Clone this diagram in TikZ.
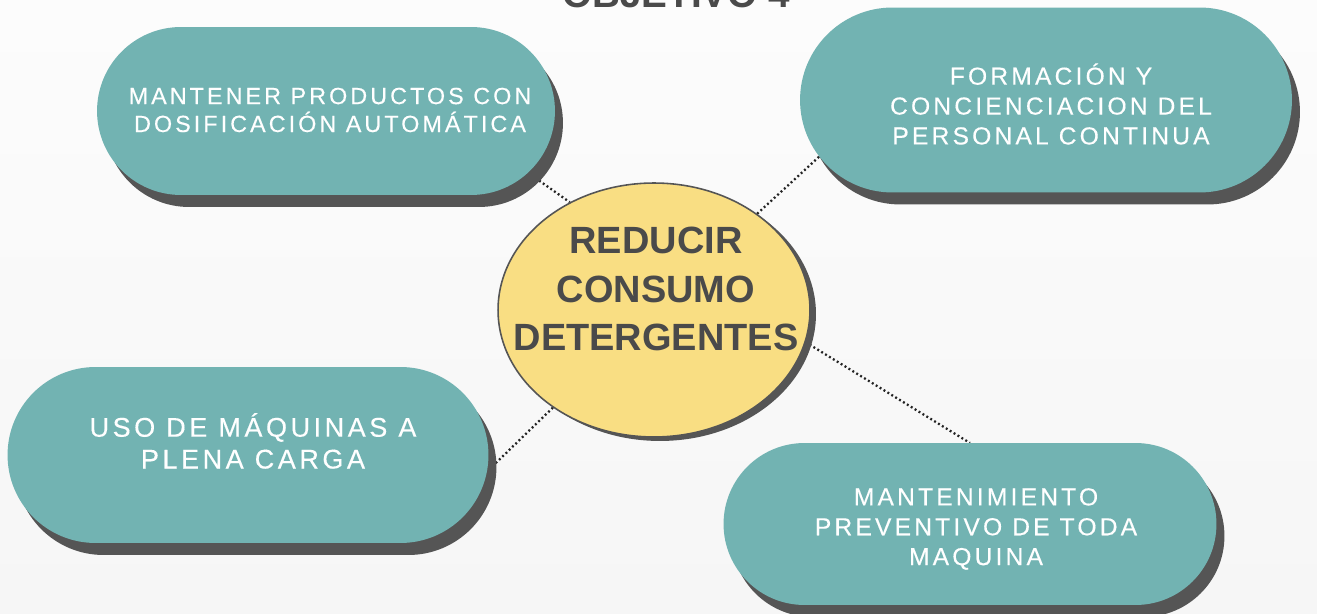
\documentclass[tikz,border=0pt]{standalone}
\usepackage{fontspec}
\setmainfont{Liberation Sans}
\newfontfamily\spacedfont[LetterSpace=13, FakeBold=0.3]{Liberation Sans}
\usetikzlibrary{shapes.misc,shapes.geometric,shadows,backgrounds}

\definecolor{capsulegreen}{RGB}{114,179,178}
\definecolor{shadowgray}{RGB}{85,85,85}
\definecolor{centreyellow}{RGB}{249,222,131}
\definecolor{darktext}{RGB}{74,74,74}
\definecolor{linegray}{RGB}{35,35,35}
\definecolor{bgtop}{RGB}{252,252,252}
\definecolor{bgbottom}{RGB}{246,246,246}

\begin{document}
\begin{tikzpicture}[x=0.02cm, y=-0.02cm,
    capsule/.style={rounded rectangle, fill=capsulegreen, inner sep=0pt, outer sep=0pt,
      drop shadow={shadow xshift=0.16cm, shadow yshift=-0.24cm, fill=shadowgray, opacity=1}},
    capsuletext/.style={text=white, align=center, inner sep=0pt},
    link/.style={draw=linegray, line width=1.3pt, dash pattern=on 1.1pt off 1.5pt}]

  \useasboundingbox (0,0) rectangle (1317,614);
  \clip (0,0) rectangle (1317,614);

  % titulo (cortado arriba)
  \node[font=\bfseries\fontsize{22}{26}\selectfont, text=darktext, anchor=base] (title) at (676,8) {OBJETIVO 4};

  % capsulas
  \node[capsule, minimum width=9.16cm, minimum height=3.36cm] (tl) at (326,111) {};
  \node[capsule, minimum width=9.84cm, minimum height=3.70cm] (tr) at (1046,100) {};
  \node[capsule, minimum width=9.62cm, minimum height=3.52cm] (bl) at (248,455) {};
  \node[capsule, minimum width=9.86cm, minimum height=3.24cm] (br) at (970,524) {};

  % circulo central
  \node[ellipse, draw=shadowgray, line width=0.9pt, fill=centreyellow, inner sep=0pt,
    minimum width=6.24cm, minimum height=5.08cm,
    drop shadow={shadow xshift=0.12cm, shadow yshift=-0.08cm, fill=shadowgray, opacity=1}] (c) at (654,310) {};
  \node[font=\bfseries\fontsize{21.6}{27.5}\selectfont, text=darktext, align=center, inner sep=0pt] (c-text) at (656,289) {REDUCIR\\CONSUMO\\DETERGENTES};

  % textos
  \node[capsuletext, font=\spacedfont\fontsize{13.3}{15.9}\selectfont] (tl-text) at (330,110) {MANTENER PRODUCTOS CON\\DOSIFICACIÓN AUTOMÁTICA};
  \node[capsuletext, font=\spacedfont\fontsize{14}{17}\selectfont] (tr-text) at (1051,104) {FORMACIÓN Y\\CONCIENCIACION DEL\\PERSONAL CONTINUA};
  \node[capsuletext, font=\spacedfont\fontsize{15.4}{18.1}\selectfont] (bl-text) at (253,441) {USO DE MÁQUINAS A\\PLENA CARGA};
  \node[capsuletext, font=\spacedfont\fontsize{14}{17}\selectfont] (br-text) at (976,529) {MANTENIMIENTO\\PREVENTIVO DE TODA\\MAQUINA};

  % fondo y conectores
  \begin{scope}[on background layer]
    \shade[top color=bgtop, bottom color=bgbottom] (0,0) rectangle (1317,614);
    \draw[link] (tl.-17) -- (c.128);
    \draw[link] (c.43) -- (tr.194);
    \draw[link] (c.-12) -- (br.north);
    \draw[link] (c.224) -- (bl.-4);
  \end{scope}
\end{tikzpicture}
\end{document}
